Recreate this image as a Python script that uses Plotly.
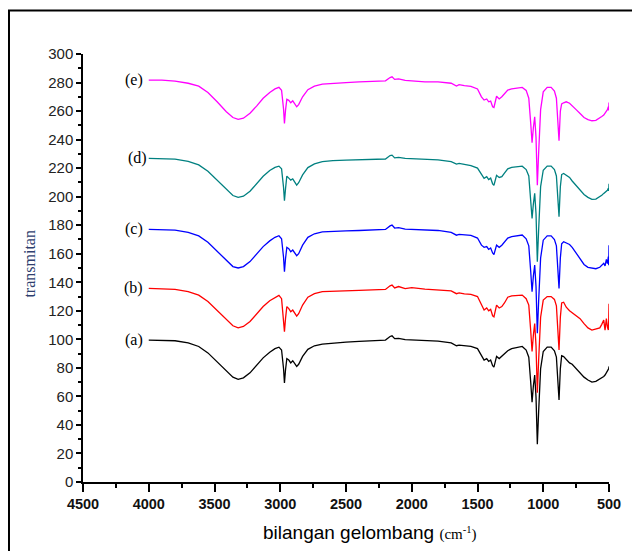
import plotly.graph_objects as go

# Wavenumber grid (cm^-1)
wavenumber = [4000, 3900, 3800, 3700, 3620, 3550, 3480, 3410, 3360, 3320,
              3280, 3230, 3180, 3130, 3080, 3040, 3010, 2990, 2975, 2968,
              2960, 2950, 2935, 2920, 2905, 2890, 2875, 2860, 2830, 2790,
              2740, 2680, 2600, 2500, 2400, 2300, 2200, 2165, 2150, 2130,
              2100, 2050, 2000, 1900, 1800, 1700, 1660, 1640, 1600, 1550,
              1500, 1470, 1450, 1430, 1415, 1400, 1385, 1375, 1355, 1335,
              1315, 1295, 1270, 1240, 1200, 1160, 1130, 1110, 1095, 1085,
              1075, 1065, 1055, 1045, 1035, 1020, 1000, 970, 940, 915,
              900, 890, 880, 870, 860, 845, 825, 800, 780, 750,
              720, 690, 660, 630, 600, 570, 555, 540, 530, 520,
              512, 505, 502, 500]

spec_a = [99.5, 99.5, 99.0, 97.5, 95.0, 90.5, 84.0, 77.5, 73.5, 72.0,
          73.0, 76.5, 81.5, 87.0, 91.0, 93.5, 94.5, 92.5, 79.5, 69.5,
          78.5, 86.5, 85.5, 83.5, 85.0, 83.0, 81.0, 82.5, 88.0, 93.0,
          95.5, 96.7, 97.5, 98.0, 98.5, 99.0, 99.5, 102.0, 102.5, 100.5,
          100.7, 99.8, 99.5, 99.2, 98.7, 97.5, 95.5, 96.0, 95.5, 95.0,
          93.5, 88.5, 85.5, 86.5, 84.5, 85.5, 81.5, 80.5, 88.0, 86.5,
          88.0, 89.5, 92.0, 93.5, 94.5, 95.0, 92.5, 87.5, 69.5, 56.0,
          67.5, 75.0, 59.5, 26.5, 49.5, 79.5, 91.5, 94.5, 94.5, 92.0,
          87.5, 74.5, 57.5, 79.5, 88.5, 88.0, 86.0, 83.5, 82.5, 79.5,
          76.5, 73.5, 71.5, 70.0, 70.5, 72.0, 73.0, 74.0, 75.0, 76.5,
          77.5, 79.0, 79.5, 81.0]

spec_b = [135.7, 135.5, 135.0, 133.5, 131.0, 126.5, 120.0, 113.5, 109.5, 108.0,
          109.0, 112.5, 117.5, 123.0, 127.0, 129.5, 130.8, 128.5, 115.5, 105.3,
          114.5, 122.9, 121.5, 119.3, 120.5, 118.5, 116.3, 118.0, 124.0, 129.5,
          132.0, 133.4, 133.8, 134.0, 134.3, 134.6, 135.0, 137.5, 138.0, 136.0,
          137.0, 135.5, 136.3, 135.2, 134.8, 134.0, 132.0, 132.5, 131.8, 131.5,
          130.0, 124.0, 120.5, 122.0, 120.0, 121.0, 116.5, 115.8, 124.0, 122.0,
          123.0, 125.5, 129.5, 130.5, 131.0, 131.0, 128.5, 124.0, 105.5, 91.5,
          103.0, 111.0, 95.5, 62.5, 85.5, 115.5, 127.5, 130.0, 130.0, 128.0,
          123.5, 110.5, 92.5, 115.5, 125.5, 126.0, 122.5, 120.0, 118.5, 116.5,
          114.5, 111.0, 108.0, 106.5, 107.0, 108.0, 110.5, 113.5, 106.5, 114.5,
          108.5, 106.5, 114.0, 125.0]

spec_c = [177.1, 177.0, 176.5, 175.0, 172.5, 168.0, 161.5, 155.0, 151.0, 150.0,
          151.0, 154.5, 159.5, 165.0, 169.0, 171.5, 172.6, 170.5, 157.5, 147.4,
          156.5, 164.5, 163.5, 161.4, 162.6, 160.5, 158.6, 160.0, 166.0, 171.5,
          174.0, 175.3, 175.8, 176.0, 176.3, 176.5, 177.0, 179.5, 180.1, 178.0,
          178.3, 177.3, 177.0, 176.8, 176.3, 175.0, 173.0, 173.5, 173.0, 172.8,
          171.0, 166.0, 164.5, 165.0, 163.0, 164.0, 160.5, 159.5, 166.0, 164.5,
          166.0, 168.0, 171.0, 172.0, 172.8, 173.1, 170.5, 165.5, 147.0, 133.4,
          144.5, 152.0, 137.0, 104.2, 127.0, 157.0, 169.5, 172.5, 172.5, 170.0,
          165.5, 152.5, 135.7, 157.0, 167.0, 168.4, 167.5, 166.5, 164.5, 160.5,
          155.6, 152.5, 150.5, 149.8, 149.5, 150.5, 152.0, 153.3, 151.5, 156.0,
          153.0, 158.0, 152.0, 166.0]

spec_d = [226.8, 226.8, 226.3, 224.8, 222.3, 217.8, 211.3, 204.8, 200.8, 199.5,
          200.3, 203.8, 208.8, 214.3, 218.3, 220.5, 221.4, 219.5, 206.5, 197.2,
          205.5, 214.4, 213.0, 211.6, 212.5, 210.0, 208.1, 209.8, 215.3, 220.4,
          223.0, 224.6, 225.3, 225.6, 225.9, 226.1, 226.4, 228.8, 229.1, 227.2,
          227.6, 226.8, 226.5, 226.2, 225.8, 224.5, 222.8, 223.3, 222.5, 221.8,
          220.0, 215.5, 212.8, 214.0, 212.0, 213.0, 209.0, 208.0, 215.0, 213.5,
          214.0, 216.5, 219.5, 220.5, 221.2, 221.4, 219.0, 214.5, 196.5, 184.8,
          195.0, 202.3, 188.0, 154.4, 177.0, 207.0, 218.5, 221.4, 221.4, 219.0,
          214.5, 201.5, 186.0, 207.0, 215.5, 216.3, 215.0, 213.5, 211.0, 208.0,
          204.6, 201.5, 199.5, 198.1, 198.3, 199.8, 201.0, 202.3, 203.0, 203.8,
          204.5, 205.8, 204.0, 209.0]

spec_e = [281.7, 281.7, 281.0, 279.5, 277.5, 273.0, 266.5, 259.5, 255.5, 254.2,
          255.0, 258.5, 263.5, 269.0, 273.0, 275.5, 276.6, 274.5, 261.5, 251.4,
          260.5, 268.2, 267.5, 265.8, 267.2, 265.0, 263.0, 264.5, 270.0, 275.0,
          277.5, 278.9, 279.5, 280.0, 280.4, 280.8, 281.2, 283.5, 284.0, 282.2,
          282.5, 281.5, 281.0, 280.5, 280.5, 279.5, 277.5, 278.5, 277.8, 277.3,
          275.5, 270.0, 267.7, 268.5, 266.5, 267.0, 263.0, 262.5, 270.4, 268.5,
          270.0, 272.0, 274.7, 275.5, 276.3, 276.6, 274.5, 269.0, 251.0, 237.8,
          248.5, 256.0, 241.5, 208.0, 231.0, 261.0, 273.5, 276.6, 276.6, 274.0,
          269.0, 256.0, 239.2, 260.0, 265.0, 265.8, 266.5, 265.5, 263.5, 261.0,
          258.3, 255.5, 254.0, 253.2, 253.5, 255.0, 256.2, 257.2, 258.5, 259.5,
          261.0, 263.0, 260.5, 266.0]

series_names = ["(a)", "(b)", "(c)", "(d)", "(e)"]
series_values = [spec_a, spec_b, spec_c, spec_d, spec_e]
series_colors = ["#000000", "#ff0000", "#0000ff", "#008080", "#ff00ff"]

for s in series_values:
    assert len(s) == len(wavenumber), (len(s), len(wavenumber))

y_ticks = list(range(0, 301, 20))
x_ticks = list(range(500, 4501, 500))

fig = go.Figure()
for name, vals, col in zip(series_names, series_values, series_colors):
    fig.add_trace(go.Scatter(x=wavenumber, y=vals, mode="lines", name=name,
                             line=dict(color=col, width=1.3), showlegend=False))

# series labels
label_x = {"(a)": 4025, "(b)": 4025, "(c)": 4025, "(d)": 3998, "(e)": 4025}
for name, vals in zip(series_names, series_values):
    fig.add_annotation(x=label_x[name], y=vals[0], text=name, showarrow=False,
                       xanchor="right", yanchor="middle",
                       font=dict(family="Liberation Serif", size=16, color="#000"))

fig.add_annotation(xref="paper", yref="paper", x=0.5456, y=-0.117,
                   text="bilangan gelombang <span style='font-family:Liberation Serif;font-size:15px'>(cm<sup>-1</sup>)</span>",
                   showarrow=False, xanchor="center", yanchor="middle",
                   font=dict(family="Liberation Sans", size=19, color="#000"))
fig.add_annotation(xref="paper", yref="paper", x=-0.101, y=0.51,
                   text="transmitan", textangle=-90, showarrow=False,
                   xanchor="center", yanchor="middle",
                   font=dict(family="Liberation Serif", size=16, color="#2f3f6f"))

# outer frame
fig.add_shape(type="rect", xref="paper", yref="paper",
              x0=-0.1407, x1=1.08, y0=-0.2, y1=1.1016,
              line=dict(color="#000", width=2), layer="below")

# The page body has an 8px margin, so the figure is offset by (8, 8)
fig.update_layout(
    width=632, height=543,
    margin=dict(l=75, r=31, t=46, b=69),
    paper_bgcolor="white", plot_bgcolor="white",
    xaxis=dict(range=[4500, 500], tickvals=x_ticks, ticktext=[str(v) for v in x_ticks],
               showgrid=False, zeroline=False, showline=True, linecolor="#000", linewidth=1.5,
               ticks="outside", ticklen=8, tickwidth=1.5, tickcolor="#000",
               tickfont=dict(family="Liberation Sans", size=14.5, color="#111", weight="bold"),
               minor=dict(dtick=250, tick0=500, ticks="outside", ticklen=4, tickwidth=1.5, tickcolor="#000")),
    yaxis=dict(range=[0, 300], tickvals=y_ticks,
               showgrid=False, zeroline=False, showline=True, linecolor="#000", linewidth=1.5,
               ticks="outside", ticklen=5, tickwidth=1.5, tickcolor="#000",
               tickfont=dict(family="Liberation Sans", size=15, color="#222"),
               minor=dict(dtick=10, tick0=0, ticks="outside", ticklen=3, tickwidth=1.5, tickcolor="#000")),
)

fig.write_html("out.html")
